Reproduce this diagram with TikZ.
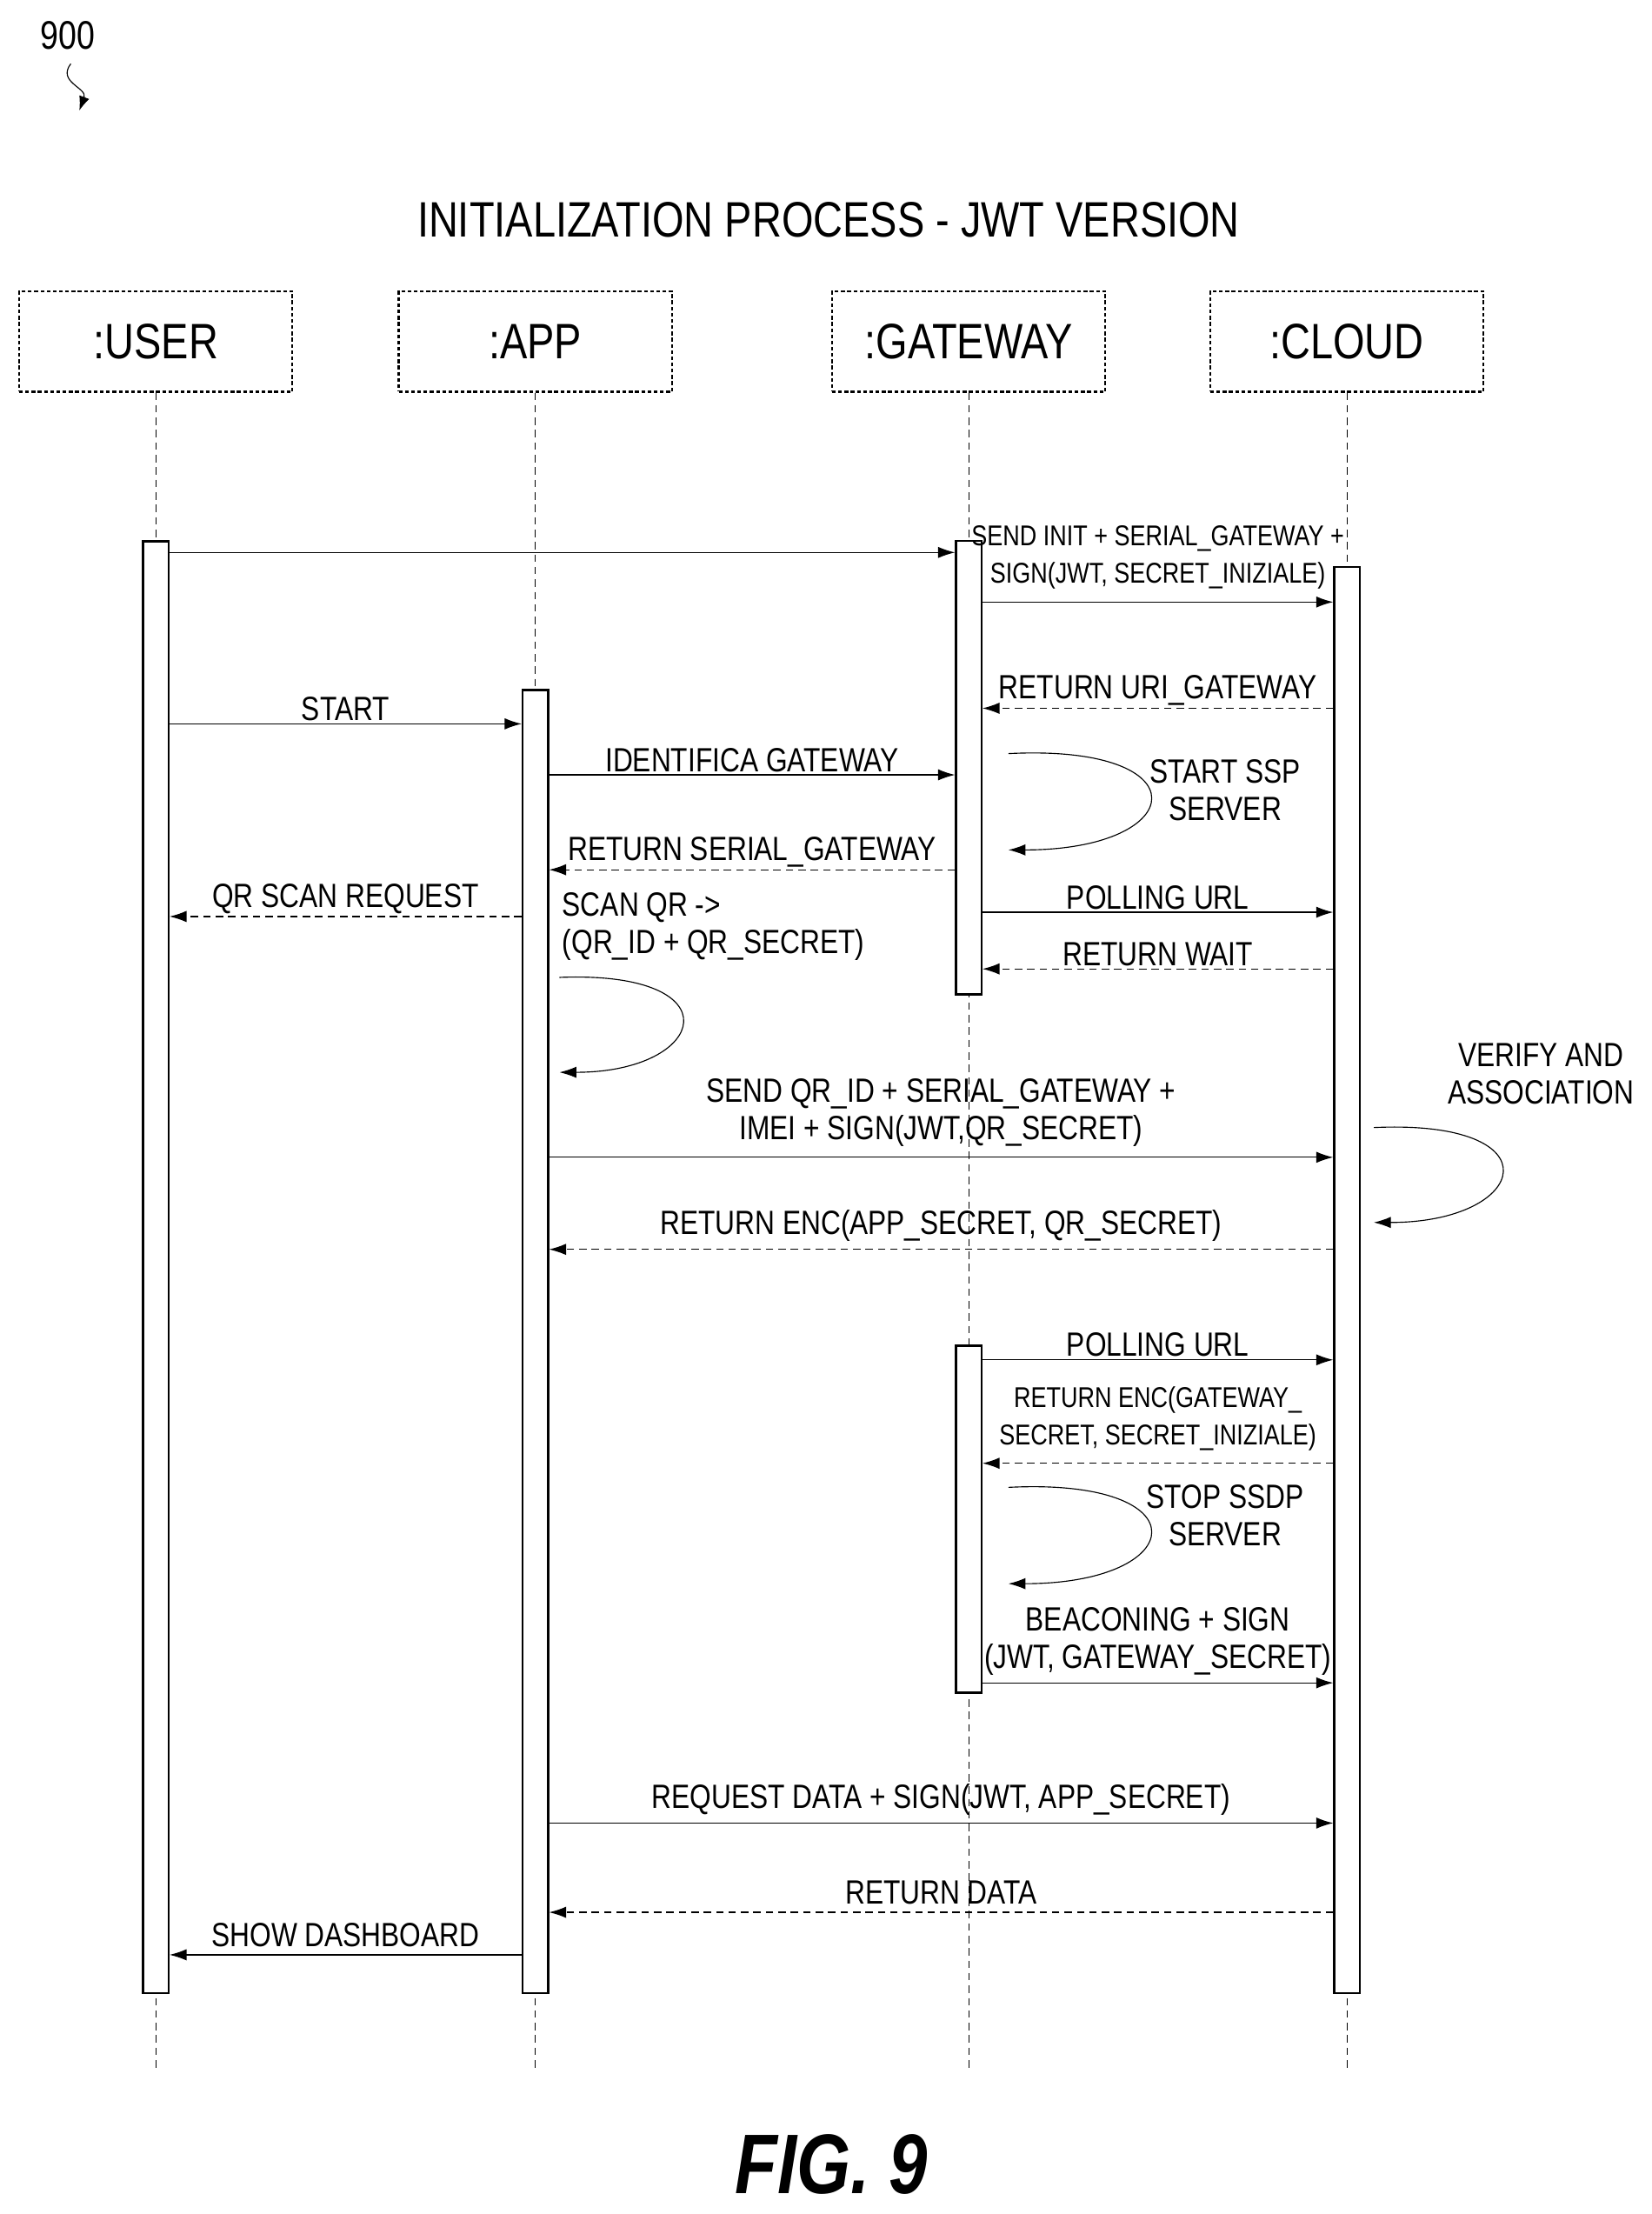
\documentclass[tikz,border=0pt]{standalone}
\usepackage{fontspec}
\setmainfont[FakeStretch=0.82]{Liberation Sans}
\usetikzlibrary{arrows.meta,positioning}

\begin{document}
\begin{tikzpicture}[x=0.02cm, y=-0.02cm,
    actor/.style = {draw, thick, dash pattern=on 1.5pt off 1pt, minimum width=3.86cm, minimum height=1.42cm, font=\fontsize{20}{22}\selectfont},
    life/.style  = {densely dashed, thin},
    act/.style   = {draw, thick, fill=white, minimum width=0.36cm, inner sep=0pt},
    msg/.style   = {-{Latex[length=2.4mm,width=1.6mm]}, thin},
    ret/.style   = {msg, densely dashed},
    lbl/.style   = {font=\fontsize{13.5}{15}\selectfont, align=center, inner sep=1pt},
    small/.style = {lbl, font=\fontsize{11.5}{15}\selectfont},
    loop/.style  = {msg, thin}]
    \useasboundingbox (0,0) rectangle (1166,1563);

    % heading
    \node[font=\fontsize{16}{18}\selectfont] (fignum) at (48,25) {900};
    \draw[-{Latex[length=2mm]}] (50,45) .. controls (40,58) and (62,62) .. (56,78);
    \node[font=\fontsize{20}{22}\selectfont] (title) at (585,155) {INITIALIZATION PROCESS - JWT VERSION};

    % actors
    \node[actor] (user)  at (110,241) {:USER};
    \node[actor] (app)   at (378,241) {:APP};
    \node[actor] (gw)    at (684,241) {:GATEWAY};
    \node[actor] (cloud) at (951,241) {:CLOUD};

    \foreach \a in {user, app, gw, cloud}
        \draw[life] (\a.south) -- (\a.south |- 0,1462);

    % activations
    \node[act, minimum height=20.5cm]  (uact)  at (110,894.5) {};
    \node[act, minimum height=18.4cm]  (aact)  at (378,947) {};
    \node[act, minimum height=6.4cm]   (gact)  at (684,542) {};
    \node[act, minimum height=4.9cm]   (gact2) at (684,1072.5) {};
    \node[act, minimum height=20.14cm] (cact)  at (951,903.5) {};

    % message rows
    \foreach \n/\y in {m1/390, m2/425, m3/500, m4/511, m5/547, m6/614, m7/647, m8/644,
                       m9/684, m10/817, m11/882, m12/960, m13/1033, m14/1188,
                       m15/1287, m16/1350, m17/1380}
        \coordinate (\n) at (0,\y);

    \draw[msg] (uact.east |- m1) -- (gact.west |- m1);
    \draw[msg] (gact.east |- m2) -- node[small, above=4pt] {SEND INIT + SERIAL\_GATEWAY +\\SIGN(JWT, SECRET\_INIZIALE)} (cact.west |- m2);
    \draw[ret] (cact.west |- m3) -- node[lbl, above] {RETURN URI\_GATEWAY} (gact.east |- m3);
    \draw[msg] (uact.east |- m4) -- node[lbl, above] {START} (aact.west |- m4);
    \draw[msg] (aact.east |- m5) -- node[lbl, above] {IDENTIFICA GATEWAY} (gact.west |- m5);
    \draw[ret] (gact.west |- m6) -- node[lbl, above] {RETURN SERIAL\_GATEWAY} (aact.east |- m6);
    \draw[ret] (aact.west |- m7) -- node[lbl, above] {QR SCAN REQUEST} (uact.east |- m7);
    \draw[msg] (gact.east |- m8) -- node[lbl, above] {POLLING URL} (cact.west |- m8);
    \draw[ret] (cact.west |- m9) -- node[lbl, above] {RETURN WAIT} (gact.east |- m9);
    \draw[msg] (aact.east |- m10) -- node[lbl, above=3pt] {SEND QR\_ID + SERIAL\_GATEWAY +\\IMEI + SIGN(JWT,QR\_SECRET)} (cact.west |- m10);
    \draw[ret] (cact.west |- m11) -- node[lbl, above=2pt] {RETURN ENC(APP\_SECRET, QR\_SECRET)} (aact.east |- m11);
    \draw[msg] (gact2.east |- m12) -- node[lbl, above] {POLLING URL} (cact.west |- m12);
    \draw[ret] (cact.west |- m13) -- node[small, above=4pt] {RETURN ENC(GATEWAY\_\\SECRET, SECRET\_INIZIALE)} (gact2.east |- m13);
    \draw[msg] (gact2.east |- m14) -- node[lbl, above=2pt] {BEACONING + SIGN\\(JWT, GATEWAY\_SECRET)} (cact.west |- m14);
    \draw[msg] (aact.east |- m15) -- node[lbl, above=2pt] {REQUEST DATA + SIGN(JWT, APP\_SECRET)} (cact.west |- m15);
    \draw[ret] (cact.west |- m16) -- node[lbl, above=2pt] {RETURN DATA} (aact.east |- m16);
    \draw[msg] (aact.west |- m17) -- node[lbl, above=2pt] {SHOW DASHBOARD} (uact.east |- m17);

    % self calls
    \coordinate (s1a) at (712,532);  \coordinate (s1b) at (712,600);
    \coordinate (s2a) at (395,690);  \coordinate (s2b) at (395,757);
    \coordinate (s3a) at (970,796);  \coordinate (s3b) at (970,863);
    \coordinate (s4a) at (712,1050); \coordinate (s4b) at (712,1118);
    \draw[loop] (s1a) .. controls (850,525) and (840,600) .. (s1b);
    \draw[loop] (s2a) .. controls (520,685) and (500,757) .. (s2b);
    \draw[loop] (s3a) .. controls (1100,790) and (1080,863) .. (s3b);
    \draw[loop] (s4a) .. controls (850,1043) and (840,1118) .. (s4b);
    \node[lbl] (ssp)   at (865,558)  {START SSP\\SERVER};
    \node[lbl, align=left, anchor=west] (scan) at (395,654) {SCAN QR ->\\(QR\_ID + QR\_SECRET)};
    \node[lbl] (verify) at (1088,758) {VERIFY AND\\ASSOCIATION};
    \node[lbl] (ssdp)  at (865,1070) {STOP SSDP\\SERVER};

    % caption
    \node[font=\fontsize{34}{36}\selectfont\bfseries\itshape] (fig) at (587,1528) {FIG. 9};
\end{tikzpicture}
\end{document}
